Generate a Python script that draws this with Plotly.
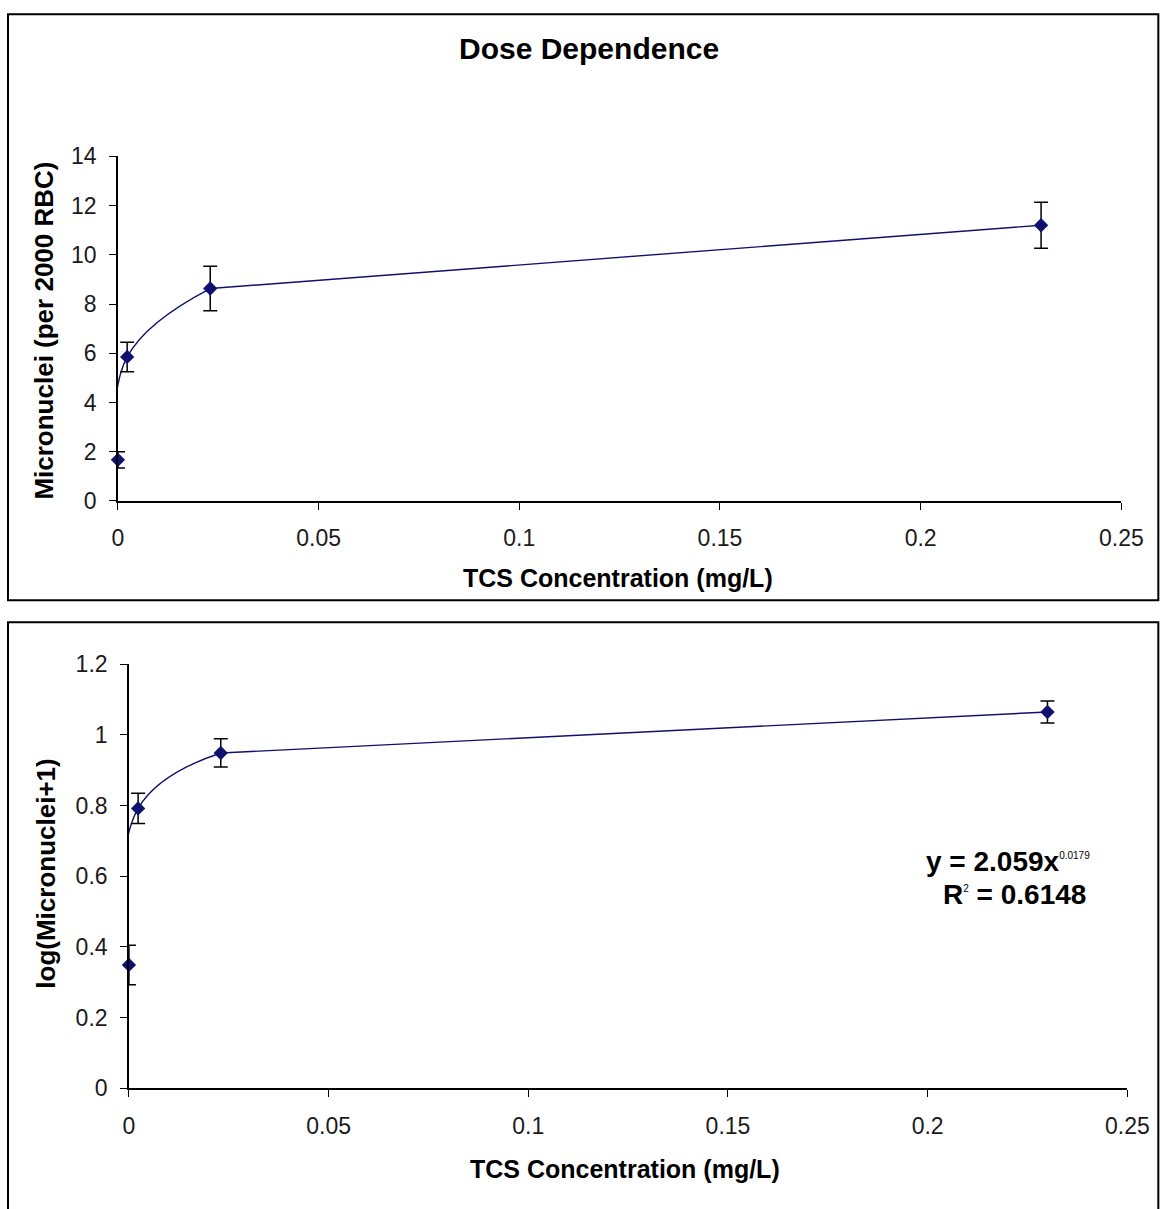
import plotly.graph_objects as go

# ---- data ----
conc = [0, 0.0023, 0.023, 0.23]
micronuclei = [1.67, 5.85, 8.63, 11.2]
micronuclei_err = [0.33, 0.6, 0.9, 0.93]
log_micronuclei = [0.349, 0.792, 0.949, 1.065]
log_err = [0.056, 0.043, 0.04, 0.031]
x_ticks = [0, 0.05, 0.1, 0.15, 0.2, 0.25]
x_tick_labels = ["0", "0.05", "0.1", "0.15", "0.2", "0.25"]

W, H = 1188, 1237
S, OX, OY = 0.977, 5.0, 13.0
NAVY = "#10106e"
FONT = "Liberation Sans, Arial, sans-serif"


def px(x):
    return ((x - OX) / S) / W


def py(y):
    return (H - (y - OY) / S) / H


fig = go.Figure()


def add_series(xs, ys, errs, xa, ya):
    fig.add_trace(go.Scatter(
        x=xs[:3], y=ys[:3], mode="lines",
        line=dict(color=NAVY, width=1.4, shape="spline", smoothing=1.2),
        xaxis=xa, yaxis=ya, showlegend=False, hoverinfo="skip",
        cliponaxis=False,
    ))
    fig.add_trace(go.Scatter(
        x=xs[2:], y=ys[2:], mode="lines",
        line=dict(color=NAVY, width=1.4),
        xaxis=xa, yaxis=ya, showlegend=False, hoverinfo="skip",
        cliponaxis=False,
    ))
    fig.add_trace(go.Scatter(
        x=xs, y=ys, mode="markers",
        marker=dict(symbol="diamond", size=11, color=NAVY),
        error_y=dict(type="data", array=errs, visible=True,
                     color="black", thickness=1.5, width=7),
        xaxis=xa, yaxis=ya, showlegend=False, cliponaxis=False,
    ))


add_series(conc, micronuclei, micronuclei_err, "x", "y")
add_series(conc, log_micronuclei, log_err, "x2", "y2")

axis_common = dict(
    showgrid=False, zeroline=False, showline=True, linecolor="black",
    linewidth=1.5, ticks="outside", ticklen=7, tickwidth=1.2,
    tickcolor="black", tickfont=dict(family=FONT, size=23, color="#1a1a1a"),
)

fig.update_layout(
    width=W, height=H,
    margin=dict(l=0, r=0, t=0, b=0),
    paper_bgcolor="white", plot_bgcolor="white",
    font=dict(family=FONT, color="black"),
    xaxis=dict(domain=[px(117), px(1121)], range=[0, 0.25],
               tickvals=x_ticks, ticktext=x_tick_labels,
               anchor="y", ticklabelstandoff=9, **axis_common),
    yaxis=dict(domain=[py(500), py(156)], range=[0, 14], dtick=2,
               anchor="x", ticklabelstandoff=8, **axis_common),
    xaxis2=dict(domain=[px(128), px(1127)], range=[0, 0.25],
                tickvals=x_ticks, ticktext=x_tick_labels,
                anchor="y2", ticklabelstandoff=9, **axis_common),
    yaxis2=dict(domain=[py(1086), py(663)], range=[0, 1.2], dtick=0.2,
                anchor="x2", ticklabelstandoff=8, **axis_common),
)

# outer boxes
fig.add_shape(type="rect", xref="paper", yref="paper",
              x0=max(px(7), 0.001), x1=min(px(1158), 0.999),
              y0=py(599), y1=min(py(5), 0.999),
              line=dict(color="black", width=2))
fig.add_shape(type="rect", xref="paper", yref="paper",
              x0=max(px(7), 0.001), x1=min(px(1158), 0.999),
              y0=-0.02, y1=py(621),
              line=dict(color="black", width=2))


def ann(text, x, y, angle=0, size=25):
    fig.add_annotation(text=text, xref="paper", yref="paper",
                       x=px(x), y=py(y), xanchor="center", yanchor="middle",
                       showarrow=False, textangle=angle,
                       font=dict(family=FONT, size=size, color="black"))


ann("<b>Dose Dependence</b>", 588, 48, size=30)
ann("<b>TCS Concentration (mg/L)</b>", 617, 577)
ann("<b>Micronuclei (per 2000 RBC)</b>", 43, 330, angle=-90, size=26)
ann("<b>TCS Concentration (mg/L)</b>", 624, 1167)
ann("<b>log(Micronuclei+1)</b>", 45, 872, angle=-90, size=26)
ann("<b>y = 2.059x</b><sup><span style='font-size:10px'>0.0179</span></sup>",
    1008, 860, size=28)
ann("<b>R</b><sup><span style='font-size:10px'>2</span></sup><b> = 0.6148</b>",
    1014, 893, size=28)

fig.write_html(
    "out.html",
    config={"displayModeBar": False},
    post_script=(
        "document.documentElement.style.overflow='hidden';"
        "document.body.style.overflow='hidden';"
        "document.body.style.margin='0';"
    ),
)
